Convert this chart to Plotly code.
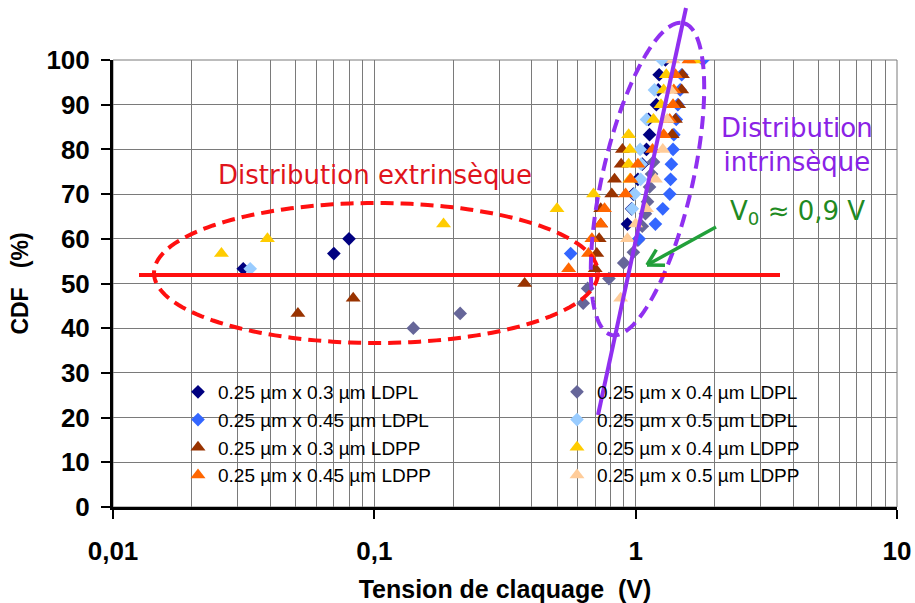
import math
import plotly.graph_objects as go

# ---------------- data ----------------
names = [
    "0.25 µm x 0.3 µm LDPL", "0.25 µm x 0.4 µm LDPL",
    "0.25 µm x 0.45 µm LDPL", "0.25 µm x 0.5 µm LDPL",
    "0.25 µm x 0.3 µm LDPP", "0.25 µm x 0.4 µm LDPP",
    "0.25 µm x 0.45 µm LDPP", "0.25 µm x 0.5 µm LDPP",
]

ldpl_03_v = [0.0315, 0.070, 0.080, 0.93, 0.965, 0.98, 1.02, 1.06, 1.10, 1.13, 1.12, 1.20, 1.22, 1.23, 1.30]
ldpl_03_cdf = [53.3, 56.7, 60.0, 63.3, 66.7, 70.0, 73.3, 76.7, 80.0, 83.3, 86.7, 90.0, 93.3, 96.7, 100.0]

ldpl_04_v = [0.141, 0.213, 0.63, 0.655, 0.79, 0.90, 0.98, 1.02, 1.06, 1.09, 1.11, 1.13, 1.15, 1.17]
ldpl_04_cdf = [40.0, 43.3, 45.6, 48.9, 51.1, 54.6, 57.0, 59.7, 62.8, 65.6, 68.3, 71.6, 74.5, 77.2]

ldpl_045_v = [0.564, 1.03, 1.19, 1.27, 1.35, 1.36, 1.37, 1.39, 1.40, 1.43, 1.45, 1.48, 1.50, 1.81]
ldpl_045_cdf = [56.7, 60.0, 63.3, 66.7, 70.0, 73.3, 76.7, 80.0, 83.3, 86.7, 90.0, 93.3, 96.7, 100.0]

ldpl_05_v = [0.0335, 0.97, 0.99, 1.045, 1.05, 1.04, 1.10, 1.18, 1.26]
ldpl_05_cdf = [53.3, 66.7, 70.0, 73.3, 76.7, 80.0, 86.7, 93.3, 100.0]

ldpp_03_v = [0.051, 0.083, 0.376, 0.70, 0.71, 0.725, 0.735, 0.735, 0.81, 0.83, 0.88, 0.89, 1.38, 1.42, 1.46, 1.50, 1.51]
ldpp_03_cdf = [43.3, 46.7, 50.0, 53.3, 56.7, 60.0, 63.3, 66.7, 70.0, 73.3, 76.7, 80.0, 83.3, 86.7, 90.0, 93.3, 96.7]

ldpp_04_v = [0.026, 0.039, 0.184, 0.50, 0.69, 0.95, 0.94, 0.95, 0.94, 1.17, 1.25, 1.28, 1.31, 1.68]
ldpp_04_cdf = [56.7, 60.0, 63.3, 66.7, 70.0, 73.3, 76.7, 80.0, 83.3, 86.7, 90.0, 93.3, 96.7, 100.0]

ldpp_045_v = [0.554, 0.66, 0.68, 0.735, 0.76, 0.915, 0.957, 1.02, 1.16, 1.28, 1.35, 1.39, 1.40, 1.42, 1.60]
ldpp_045_cdf = [53.3, 56.7, 60.0, 63.3, 66.7, 70.0, 73.3, 76.7, 80.0, 83.3, 86.7, 90.0, 93.3, 96.7, 100.0]

ldpp_05_v = [0.876, 0.93, 1.0, 1.10, 1.19, 1.27, 1.32, 1.36, 1.39]
ldpp_05_cdf = [46.7, 60.0, 63.3, 66.7, 73.3, 80.0, 86.7, 93.3, 100.0]

x_tick_vals = [0.01, 0.1, 1, 10]
x_tick_text = ["0,01", "0,1", "1", "10"]
y_tick_vals = list(range(0, 101, 10))

# ---------------- styling ----------------
W, H = 915, 603
ML, MR, MT, MB = 113, 18, 60, 96
PW, PH = W - ML - MR, H - MT - MB

colors = ["#000080", "#666699", "#3366FF", "#99CCFF",
          "#993300", "#FFCC00", "#FF6600", "#FFCC99"]
symbols = ["diamond"] * 4 + ["triangle-up"] * 4
sizes = [10.5] * 4 + [13] * 4
# legend column: Excel fills the 2-column legend row by row
legend_ids = ["legend", "legend2", "legend", "legend2",
              "legend", "legend2", "legend", "legend2"]
series = [
    (ldpl_03_v, ldpl_03_cdf), (ldpl_04_v, ldpl_04_cdf),
    (ldpl_045_v, ldpl_045_cdf), (ldpl_05_v, ldpl_05_cdf),
    (ldpp_03_v, ldpp_03_cdf), (ldpp_04_v, ldpp_04_cdf),
    (ldpp_045_v, ldpp_045_cdf), (ldpp_05_v, ldpp_05_cdf),
]

GRID = "#7a7a7a"
RED = "#FF1010"
PURPLE = "#9030F0"
GREEN = "#22A03A"


def xp(px):
    return (px - ML) / PW


def yp(py):
    return (H - MB - py) / PH


fig = go.Figure()
for i, ((xv, yv), nm, c, s, sz, lg) in enumerate(zip(series, names, colors, symbols, sizes, legend_ids)):
    fig.add_trace(go.Scatter(
        x=xv, y=yv, mode="markers", name=nm, legend=lg, legendgroup=f"g{i}",
        marker=dict(symbol=s, size=sz, color=c, line=dict(width=0)),
    ))

shapes = []
# white boxes (legend / text backgrounds) hide the grid
for (x0, y0, x1, y1) in [(133, 369, 876, 491), (200, 148, 550, 193),
                         (717, 107, 880, 178), (720, 193, 873, 237)]:
    shapes.append(dict(type="rect", xref="paper", yref="paper",
                       x0=xp(x0), x1=xp(x1), y0=yp(y1), y1=yp(y0),
                       fillcolor="white", line=dict(width=0), layer="between"))
# plot border (top/right) like the grid
shapes.append(dict(type="rect", xref="paper", yref="paper", x0=0, x1=1, y0=0, y1=1,
                   line=dict(color=GRID, width=1), fillcolor="rgba(0,0,0,0)", layer="between"))


def ellipse_path(cx, cy, a, b, ux, uy, n=160):
    vx, vy = -uy, ux
    pts = []
    for i in range(n + 1):
        t = 2 * math.pi * i / n
        px = cx + a * math.cos(t) * ux + b * math.sin(t) * vx
        py = cy + a * math.cos(t) * uy + b * math.sin(t) * vy
        pts.append(f"{xp(px):.5f},{yp(py):.5f}")
    return "M" + " L".join(pts) + " Z"


# red dashed ellipse (extrinsic)
shapes.append(dict(type="path", xref="paper", yref="paper",
                   path=ellipse_path(376, 273, 222, 70, 1, 0),
                   line=dict(color=RED, width=4, dash="13px,7px"), layer="above"))
# purple dashed ellipse (intrinsic), tilted
dx, dy = 683 - 612, 25 - 333
L = math.hypot(dx, dy)
shapes.append(dict(type="path", xref="paper", yref="paper",
                   path=ellipse_path(647.5, 179, L / 2 + 2, 45, dx / L, dy / L),
                   line=dict(color=PURPLE, width=4, dash="13px,7px"), layer="above"))
# red horizontal line
shapes.append(dict(type="line", xref="paper", yref="paper",
                   x0=xp(139), x1=xp(780), y0=yp(275), y1=yp(275),
                   line=dict(color=RED, width=4), layer="above"))
# purple solid line
shapes.append(dict(type="line", xref="paper", yref="paper",
                   x0=xp(598), x1=xp(686), y0=yp(415), y1=yp(8),
                   line=dict(color=PURPLE, width=4), layer="above"))
# green arrow
tipx, tipy, tailx, taily = 647, 265, 716, 227
shapes.append(dict(type="line", xref="paper", yref="paper",
                   x0=xp(tailx), x1=xp(tipx), y0=yp(taily), y1=yp(tipy),
                   line=dict(color=GREEN, width=3.5), layer="above"))
ang = math.atan2(taily - tipy, tailx - tipx)
for da in (math.radians(30), -math.radians(30)):
    ex = tipx + 18 * math.cos(ang + da)
    ey = tipy + 18 * math.sin(ang + da)
    shapes.append(dict(type="line", xref="paper", yref="paper",
                       x0=xp(tipx), x1=xp(ex), y0=yp(tipy), y1=yp(ey),
                       line=dict(color=GREEN, width=3.5), layer="above"))

annotations = []
TXT = "DejaVu Sans, Verdana, sans-serif"


def add_text(text, cx, cy, color, size):
    annotations.append(dict(text=text, xref="paper", yref="paper", x=xp(cx), y=yp(cy),
                            xanchor="center", yanchor="middle", showarrow=False,
                            font=dict(family=TXT, size=size, color=color)))


add_text("Distribution extrinsèque", 375, 175, "#E0141C", 26)
add_text("Distribution<br>intrinsèque", 797, 145, "#8A22E6", 26)
add_text("V<sub>0</sub> ≈ 0,9 V", 797, 213, "#1F8A22", 26)

axfont = dict(family="Liberation Sans, Arial, sans-serif", size=26, color="black", weight="bold")
minor_x = [k * 10 ** e for e in (-2, -1, 0) for k in range(2, 10)]
legfont = dict(family="Liberation Sans, Arial, sans-serif", size=19, color="black")

fig.update_layout(
    width=W, height=H,
    margin=dict(l=ML, r=MR, t=MT, b=MB, pad=0, autoexpand=False),
    paper_bgcolor="white", plot_bgcolor="white",
    shapes=shapes, annotations=annotations,
    showlegend=True,
    legend=dict(orientation="v", x=xp(178), y=yp(373), xanchor="left", yanchor="top",
                bgcolor="rgba(0,0,0,0)", borderwidth=0, traceorder="normal",
                tracegroupgap=1, font=legfont),
    legend2=dict(orientation="v", x=xp(557), y=yp(373), xanchor="left", yanchor="top",
                 bgcolor="rgba(0,0,0,0)", borderwidth=0, traceorder="normal",
                 tracegroupgap=1, font=legfont),
    xaxis=dict(
        type="log", range=[-2, 1], automargin=False,
        tickvals=x_tick_vals, ticktext=x_tick_text,
        showgrid=True, gridcolor=GRID, gridwidth=1,
        minor=dict(tickvals=minor_x, showgrid=True, gridcolor=GRID, gridwidth=1, ticks=""),
        showline=True, linecolor="black", linewidth=3,
        ticks="outside", ticklen=9, tickwidth=2, tickcolor="black",
        tickfont=axfont, ticklabelstandoff=10,
        title=dict(text="Tension de claquage\u00a0\u00a0(V)", standoff=18,
                   font=dict(family="Liberation Sans, Arial, sans-serif", size=25,
                             color="black", weight="bold")),
        zeroline=False,
    ),
    yaxis=dict(
        range=[0, 100], tickvals=y_tick_vals, automargin=False,
        showgrid=True, gridcolor=GRID, gridwidth=1,
        showline=True, linecolor="black", linewidth=3,
        ticks="outside", ticklen=9, tickwidth=2, tickcolor="black",
        tickfont=axfont, ticklabelstandoff=6,
        title=dict(text="CDF\u00a0\u00a0\u00a0(%)", standoff=12,
                   font=dict(family="Liberation Sans, Arial, sans-serif", size=23,
                             color="black", weight="bold")),
        zeroline=False,
    ),
)

fig.write_html("out.html", config={"displayModeBar": False},
               post_script="document.body.style.margin='0px';document.body.style.overflow='hidden';")
